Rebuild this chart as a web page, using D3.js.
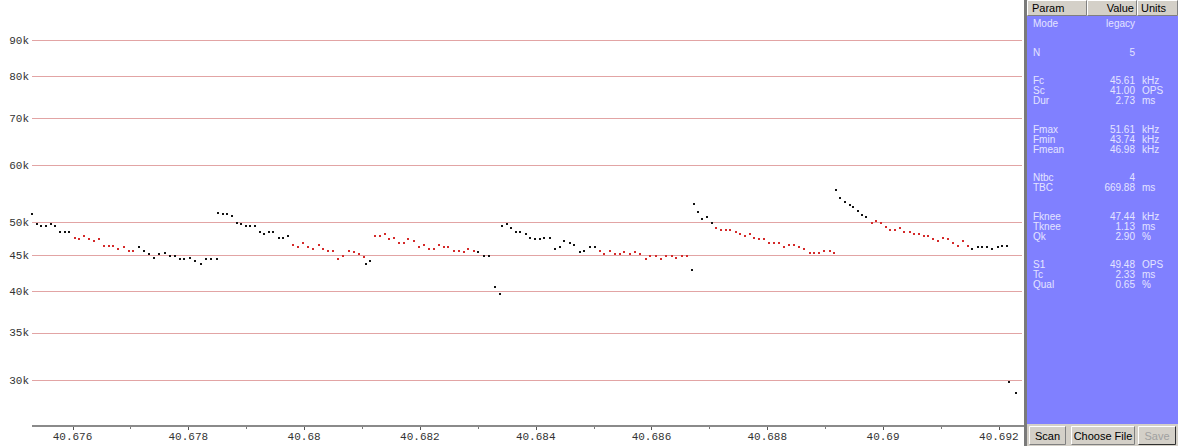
<!DOCTYPE html>
<style>
  body { margin: 0; background: #fff; }
  svg { display: block; }
  .tick-label { font-family: 'Liberation Mono', monospace; font-size: 11px; fill: #333; }
  .panel-text { font-family: 'Liberation Sans', Arial, sans-serif; font-size: 10px; fill: #e4e4ff; }
  .hdr-text { font-family: 'Liberation Sans', Arial, sans-serif; font-size: 11px; fill: #000; }
</style>
<svg width="1178" height="446"></svg>
<script src="https://d3js.org/d3.v7.min.js"></script>
<script>
  // call pulses: time (s) and frequency (kHz)
  var times = [
    40.675302, 40.675378, 40.675458, 40.675539, 40.675620, 40.675699, 40.675781, 40.675862, 40.675941,
    40.676035, 40.676114, 40.676195, 40.676287, 40.676368, 40.676449, 40.676541, 40.676622, 40.676701,
    40.676794, 40.676886, 40.676967, 40.677047, 40.677140, 40.677231, 40.677313, 40.677404, 40.677496,
    40.677589, 40.677680, 40.677762, 40.677853, 40.677934, 40.678026, 40.678117, 40.678211, 40.678302,
    40.678394, 40.678487,
    40.678510, 40.678591, 40.678670, 40.678751, 40.678833, 40.678912, 40.678993, 40.679074, 40.679154,
    40.679235, 40.679304, 40.679385, 40.679465, 40.679558, 40.679637, 40.679719, 40.679810, 40.679903,
    40.679983, 40.680064, 40.680155, 40.680249, 40.680328, 40.680409, 40.680491, 40.680582, 40.680674,
    40.680767, 40.680858, 40.680940, 40.681031, 40.681066, 40.681135,
    40.681216, 40.681307, 40.681389, 40.681468, 40.681561, 40.681641, 40.681722, 40.681803, 40.681895,
    40.681986, 40.682067, 40.682159, 40.682240, 40.682332, 40.682413, 40.682494, 40.682585, 40.682667,
    40.682758, 40.682839, 40.682931, 40.683012, 40.683104, 40.683195, 40.683299, 40.683392,
    40.683415, 40.683496, 40.683575, 40.683656, 40.683737, 40.683829, 40.683910, 40.683990, 40.684071,
    40.684152, 40.684244, 40.684335, 40.684416, 40.684497, 40.684589, 40.684670, 40.684762, 40.684843,
    40.684934, 40.685016, 40.685107, 40.685188, 40.685280, 40.685371, 40.685453, 40.685534, 40.685625,
    40.685717, 40.685810, 40.685902, 40.685983, 40.686074, 40.686166, 40.686259, 40.686351, 40.686432,
    40.686523, 40.686615, 40.686696,
    40.686731, 40.686812, 40.686881, 40.686960, 40.687042, 40.687123, 40.687202, 40.687283, 40.687364,
    40.687456, 40.687537, 40.687617, 40.687698, 40.687779, 40.687858, 40.687952, 40.688031, 40.688112,
    40.688204, 40.688297, 40.688377, 40.688470, 40.688549, 40.688643, 40.688734, 40.688815, 40.688895,
    40.688988, 40.689080, 40.689161,
    40.689183, 40.689264, 40.689344, 40.689425, 40.689482, 40.689563, 40.689644, 40.689713, 40.689805,
    40.689886, 40.689965, 40.690047, 40.690128, 40.690207, 40.690288, 40.690370, 40.690461, 40.690542,
    40.690622, 40.690703, 40.690784, 40.690864, 40.690957, 40.691036, 40.691118, 40.691209, 40.691290,
    40.691382, 40.691463, 40.691544, 40.691636, 40.691717, 40.691796, 40.691890, 40.691981, 40.692062,
    40.692142, 40.692176, 40.692304
  ];
  var freqs = [
    51.32, 49.65, 49.37, 49.37, 49.65, 49.37, 48.38, 48.38, 48.38,
    47.55, 47.30, 47.81, 47.30, 47.04, 47.30, 46.29, 46.29, 46.29,
    45.84, 46.10, 45.59, 45.59, 46.10, 45.59, 45.11, 44.58, 45.11,
    45.30, 44.86, 44.86, 44.39, 44.39, 44.58, 44.11, 43.68, 44.39,
    44.39, 44.39,
    51.54, 51.32, 51.32, 50.99, 49.90, 49.65, 49.37, 49.37, 49.37,
    48.38, 48.12, 48.38, 48.38, 47.55, 47.55, 47.81, 46.40, 46.10,
    46.79, 46.10, 45.84, 46.40, 45.84, 45.59, 45.59, 44.35, 44.86,
    45.59, 45.36, 45.11, 44.63, 43.64, 44.15,
    47.81, 47.81, 48.12, 47.30, 47.55, 46.79, 46.79, 47.30, 47.04,
    46.10, 46.40, 45.84, 45.84, 46.40, 46.10, 46.10, 45.59, 45.59,
    45.36, 45.84, 45.59, 45.36, 44.86, 44.86, 40.56, 39.69,
    49.37, 49.65, 49.06, 48.38, 48.38, 48.12, 47.55, 47.30, 47.30,
    47.55, 47.55, 45.84, 46.10, 47.04, 46.79, 46.40, 45.36, 45.59,
    46.10, 46.10, 45.59, 45.11, 45.59, 45.11, 45.11, 45.36, 45.11,
    45.36, 45.11, 44.35, 44.86, 44.86, 44.35, 44.86, 44.86, 44.58,
    44.86, 44.86, 42.84,
    52.92, 51.57, 50.55, 50.87, 49.90, 49.01, 48.74, 48.74, 48.74,
    48.38, 48.07, 47.81, 48.12, 47.50, 47.30, 47.30, 46.79, 46.79,
    46.79, 46.10, 46.40, 46.40, 46.10, 45.80, 45.30, 45.30, 45.30,
    45.59, 45.59, 45.30,
    55.45, 54.04, 53.35, 52.88, 52.53, 51.87, 51.21, 50.78, 49.90,
    50.23, 49.90, 49.26, 48.74, 48.74, 49.01, 48.38, 48.38, 48.12,
    48.12, 47.81, 47.81, 47.30, 47.04, 47.50, 47.30, 46.79, 46.29,
    47.04, 46.29, 45.80, 46.10, 46.10, 46.10, 45.80, 46.10, 46.29,
    46.29, 29.86, 28.78
  ];
  // index ranges of the knee part of each call (drawn red)
  var kneeRanges = [[9, 21], [54, 68], [71, 91], [117, 134], [141, 165], [174, 194]];

  var yTicks = [30, 35, 40, 45, 50, 60, 70, 80, 90];
  var xTicks = [40.676, 40.678, 40.680, 40.682, 40.684, 40.686, 40.688, 40.690, 40.692];
  var xMinorTicks = [40.677, 40.679, 40.681, 40.683, 40.685, 40.687, 40.689, 40.691];

  // side panel
  var paramGroups = [
    ["Mode"], ["N"], ["Fc", "Sc", "Dur"], ["Fmax", "Fmin", "Fmean"],
    ["Ntbc", "TBC"], ["Fknee", "Tknee", "Qk"], ["S1", "Tc", "Qual"]
  ];
  var paramValues = [
    ["legacy"], ["5"], ["45.61", "41.00", "2.73"], ["51.61", "43.74", "46.98"],
    ["4", "669.88"], ["47.44", "1.13", "2.90"], ["49.48", "2.33", "0.65"]
  ];
  var paramUnits = [
    [""], [""], ["kHz", "OPS", "ms"], ["kHz", "kHz", "kHz"],
    ["", "ms"], ["kHz", "ms", "%"], ["OPS", "ms", "%"]
  ];
  var headers = ["Param", "Value", "Units"];
  var buttons = ["Scan", "Choose File", "Save"];

  var svg = d3.select("svg"),
      plot = {left: 32, right: 1022, top: 0, bottom: 426};

  var x = d3.scaleLinear()
    .domain([40.6753, 40.6924])
    .range([plot.left, plot.right]);

  var y = d3.scaleLog()
    .domain([25.9, 102.3])
    .range([plot.bottom, plot.top]);

  // horizontal grid lines + labels
  var grid = svg.append("g");
  grid.selectAll("line")
    .data(yTicks)
    .enter().append("line")
    .attr("x1", plot.left)
    .attr("x2", plot.right)
    .attr("y1", function(d) { return Math.round(y(d)) + 0.5; })
    .attr("y2", function(d) { return Math.round(y(d)) + 0.5; })
    .attr("stroke", "#e2a4a4");

  grid.selectAll("text")
    .data(yTicks)
    .enter().append("text")
    .attr("class", "tick-label")
    .attr("x", plot.left - 3)
    .attr("y", function(d) { return y(d); })
    .attr("dy", "0.35em")
    .attr("text-anchor", "end")
    .text(function(d) { return d + "k"; });

  // x axis
  var xAxis = svg.append("g")
    .attr("transform", "translate(0," + plot.bottom + ")");

  xAxis.append("line")
    .attr("x1", plot.left)
    .attr("x2", plot.right + 4)
    .attr("stroke", "#8a8a8a")
    .attr("stroke-width", 2);

  xAxis.selectAll(".major")
    .data(xTicks)
    .enter().append("line")
    .attr("class", "major")
    .attr("x1", function(d) { return Math.round(x(d)) + 0.5; })
    .attr("x2", function(d) { return Math.round(x(d)) + 0.5; })
    .attr("y1", 1)
    .attr("y2", 4)
    .attr("stroke", "#555");

  xAxis.selectAll(".minor")
    .data(xMinorTicks)
    .enter().append("line")
    .attr("class", "minor")
    .attr("x1", function(d) { return Math.round(x(d)) + 0.5; })
    .attr("x2", function(d) { return Math.round(x(d)) + 0.5; })
    .attr("y1", 1)
    .attr("y2", 3)
    .attr("stroke", "#777");

  var fmt = d3.format(".5~f");
  xAxis.selectAll("text")
    .data(xTicks)
    .enter().append("text")
    .attr("class", "tick-label")
    .attr("x", function(d) { return x(d); })
    .attr("y", 14)
    .attr("text-anchor", "middle")
    .text(function(d) { return fmt(d); });

  // pulses
  function isKnee(i) {
    return kneeRanges.some(function(r) { return i >= r[0] && i <= r[1]; });
  }

  svg.append("g")
    .selectAll("rect")
    .data(times)
    .enter().append("rect")
    .attr("x", function(d) { return Math.round(x(d)) - 1; })
    .attr("y", function(d, i) { return Math.round(y(freqs[i])) - 1; })
    .attr("width", 2)
    .attr("height", 2)
    .attr("fill", function(d, i) { return isKnee(i) ? "#d42a2a" : "#111"; });

  // divider between plot and panel
  svg.append("rect")
    .attr("x", 1024).attr("y", 0)
    .attr("width", 3).attr("height", 446)
    .attr("fill", "#7a7a7a");

  // panel
  var px = 1027;
  svg.append("rect")
    .attr("x", px).attr("y", 0)
    .attr("width", 1178 - px).attr("height", 446)
    .attr("fill", "#8080ff");

  // header cells
  var hdrCells = [[px, 1087], [1087, 1137], [1137, 1178]];
  var hdr = svg.append("g");
  hdrCells.forEach(function(c, i) {
    hdr.append("rect")
      .attr("x", c[0]).attr("y", 0)
      .attr("width", c[1] - c[0]).attr("height", 16)
      .attr("fill", "#d4d0c8");
    hdr.append("path")
      .attr("d", "M" + (c[0] + 0.5) + ",15.5V0.5H" + (c[1] - 0.5))
      .attr("fill", "none").attr("stroke", "#fff");
    hdr.append("path")
      .attr("d", "M" + (c[0] + 0.5) + ",15.5H" + (c[1] - 0.5) + "V0.5")
      .attr("fill", "none").attr("stroke", "#808080");
  });
  hdr.append("text").attr("class", "hdr-text").attr("x", 1032).attr("y", 12).text(headers[0]);
  hdr.append("text").attr("class", "hdr-text").attr("x", 1134).attr("y", 12)
    .attr("text-anchor", "end").text(headers[1]);
  hdr.append("text").attr("class", "hdr-text").attr("x", 1141).attr("y", 12).text(headers[2]);

  // parameter rows
  var rows = svg.append("g");
  var rowY = 27, lineH = 10, groupGap = 18.5;
  paramGroups.forEach(function(g, gi) {
    g.forEach(function(name, ri) {
      var yy = rowY + ri * lineH;
      rows.append("text").attr("class", "panel-text").attr("x", 1033).attr("y", yy).text(name);
      rows.append("text").attr("class", "panel-text").attr("x", 1135).attr("y", yy)
        .attr("text-anchor", "end").text(paramValues[gi][ri]);
      rows.append("text").attr("class", "panel-text").attr("x", 1142).attr("y", yy)
        .text(paramUnits[gi][ri]);
    });
    rowY += g.length * lineH + groupGap;
  });

  // buttons
  svg.append("rect")
    .attr("x", px).attr("y", 424)
    .attr("width", 1178 - px).attr("height", 22)
    .attr("fill", "#d4d0c8");

  var btnCells = [[1029, 1066], [1071, 1135], [1138, 1176]];
  btnCells.forEach(function(c, i) {
    var b = svg.append("g");
    b.append("rect")
      .attr("x", c[0]).attr("y", 426)
      .attr("width", c[1] - c[0]).attr("height", 19)
      .attr("fill", "#d4d0c8");
    b.append("path")
      .attr("d", "M" + (c[0] + 0.5) + "," + 444.5 + "V426.5H" + (c[1] - 0.5))
      .attr("fill", "none").attr("stroke", "#fff");
    b.append("path")
      .attr("d", "M" + (c[0] + 0.5) + ",444.5H" + (c[1] - 0.5) + "V426.5")
      .attr("fill", "none").attr("stroke", i == 2 ? "#303030" : "#808080");
    b.append("text")
      .attr("class", "hdr-text")
      .attr("x", (c[0] + c[1]) / 2).attr("y", 440)
      .attr("text-anchor", "middle")
      .attr("fill", i == 2 ? "#a0a0a0" : "#000")
      .style("fill", i == 2 ? "#a0a0a0" : "#000")
      .text(buttons[i]);
  });
</script>
